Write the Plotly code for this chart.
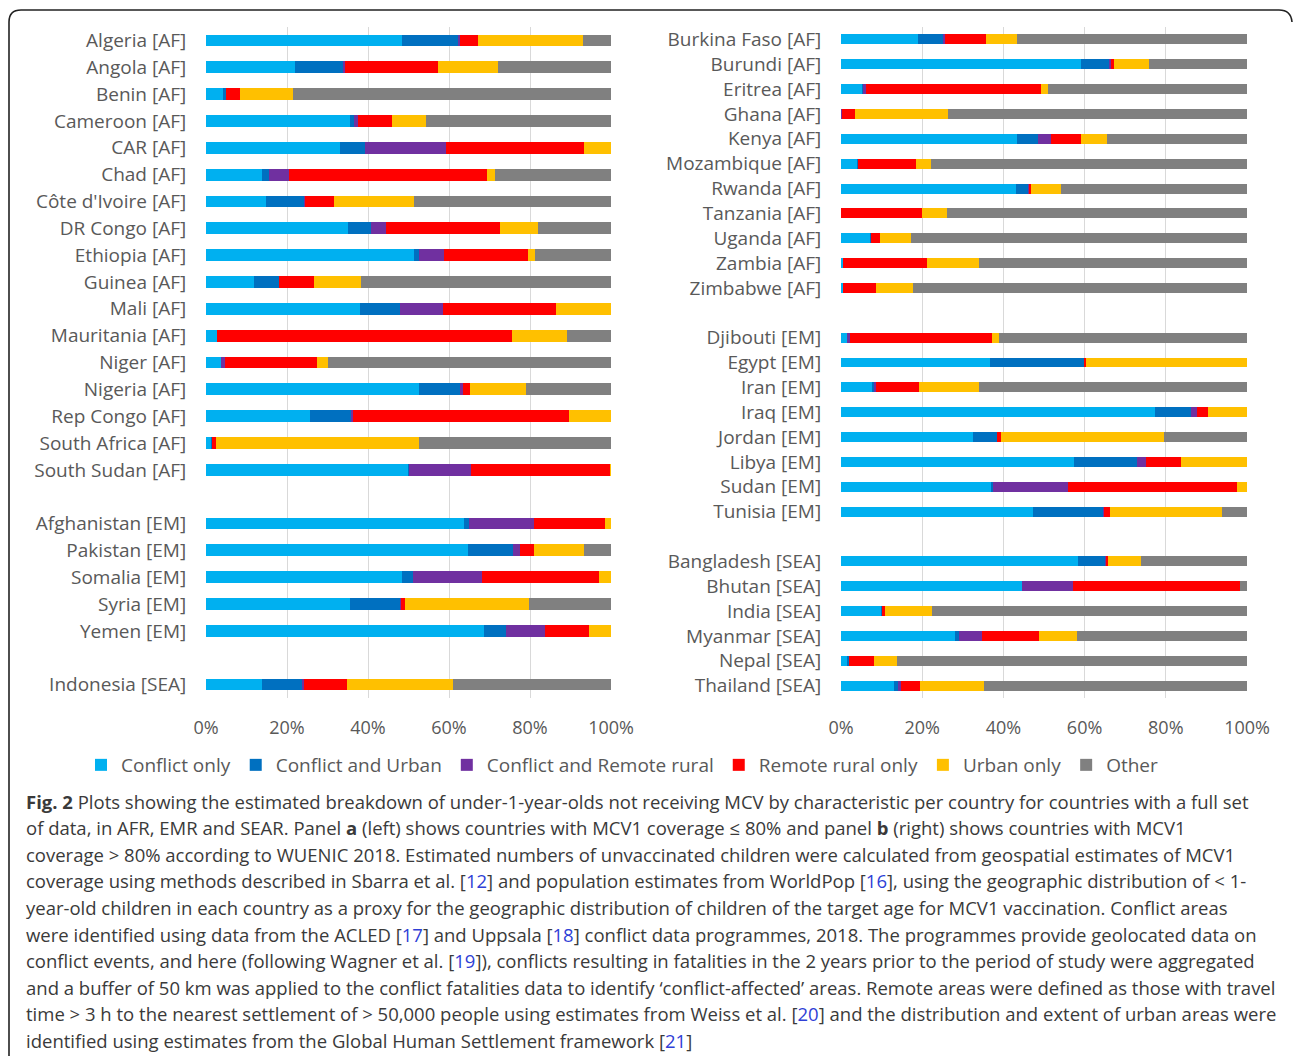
import plotly.graph_objects as go

W, H = 1293, 1056

SERIES = ["Conflict only", "Conflict and Urban", "Conflict and Remote rural",
          "Remote rural only", "Urban only", "Other"]
COLORS = ["#00B0F0", "#0070C0", "#7030A0", "#FF0000", "#FFC000", "#808080"]

# ---------------- Panel a (left) ----------------
left_countries = ["Algeria [AF]", "Angola [AF]", "Benin [AF]", "Cameroon [AF]", "CAR [AF]",
                  "Chad [AF]", "Côte d'Ivoire [AF]", "DR Congo [AF]", "Ethiopia [AF]",
                  "Guinea [AF]", "Mali [AF]", "Mauritania [AF]", "Niger [AF]", "Nigeria [AF]",
                  "Rep Congo [AF]", "South Africa [AF]", "South Sudan [AF]",
                  "Afghanistan [EM]", "Pakistan [EM]", "Somalia [EM]", "Syria [EM]", "Yemen [EM]",
                  "Indonesia [SEA]"]
left_order = left_countries[:17] + ["\u200b"] + left_countries[17:22] + ["\u200b\u200b"] + left_countries[22:]

left_conflict_only = [48.3, 21.9, 4.1, 35.6, 33.1, 13.9, 14.7, 35.1, 51.4, 11.9, 38.0, 2.7, 3.8, 52.6,
                      25.6, 1.4, 49.9, 63.6, 64.7, 48.4, 35.6, 68.7, 13.9]
left_conflict_urban = [14.0, 12.0, 0.8, 0.9, 6.2, 1.7, 9.6, 5.7, 1.3, 6.2, 10.0, 0.0, 0.0, 10.0,
                       10.4, 0.2, 0.1, 1.4, 11.2, 2.8, 12.4, 5.4, 10.0]
left_conflict_remote = [0.3, 0.3, 0.0, 1.1, 19.9, 4.9, 0.2, 3.6, 6.1, 0.0, 10.6, 0.0, 0.9, 0.9,
                        0.4, 0.0, 15.5, 16.1, 1.6, 16.9, 0.2, 9.7, 0.2]
left_remote_only = [4.6, 23.2, 3.5, 8.3, 34.2, 49.0, 7.1, 28.3, 20.7, 8.6, 27.8, 72.9, 22.6, 1.7,
                    53.2, 0.8, 34.3, 17.4, 3.5, 28.9, 0.9, 10.7, 10.7]
left_urban_only = [25.9, 14.6, 13.2, 8.4, 6.6, 1.9, 19.8, 9.2, 1.8, 11.6, 13.6, 13.5, 2.7, 13.7,
                   10.4, 50.2, 0.2, 1.5, 12.3, 3.0, 30.7, 5.5, 26.1]
left_other = [6.9, 28.0, 78.4, 45.7, 0.0, 28.6, 48.6, 18.1, 18.7, 61.7, 0.0, 10.9, 70.0, 21.1,
              0.0, 47.4, 0.0, 0.0, 6.7, 0.0, 20.2, 0.0, 39.1]

# ---------------- Panel b (right) ----------------
right_countries = ["Burkina Faso [AF]", "Burundi [AF]", "Eritrea [AF]", "Ghana [AF]", "Kenya [AF]",
                   "Mozambique [AF]", "Rwanda [AF]", "Tanzania [AF]", "Uganda [AF]", "Zambia [AF]",
                   "Zimbabwe [AF]",
                   "Djibouti [EM]", "Egypt [EM]", "Iran [EM]", "Iraq [EM]", "Jordan [EM]",
                   "Libya [EM]", "Sudan [EM]", "Tunisia [EM]",
                   "Bangladesh [SEA]", "Bhutan [SEA]", "India [SEA]", "Myanmar [SEA]",
                   "Nepal [SEA]", "Thailand [SEA]"]
right_order = right_countries[:11] + ["\u200b"] + right_countries[11:19] + ["\u200b\u200b"] + right_countries[19:]

right_conflict_only = [18.9, 59.2, 5.2, 0.0, 43.4, 4.0, 43.2, 0.0, 7.2, 0.5, 0.5,
                       1.5, 36.8, 7.6, 77.3, 32.5, 57.5, 37.1, 47.4,
                       58.3, 44.5, 9.9, 28.2, 1.7, 13.0]
right_conflict_urban = [6.4, 6.9, 0.3, 0.0, 5.0, 0.2, 3.1, 0.0, 0.2, 0.0, 0.0,
                        0.0, 23.2, 0.6, 9.0, 6.0, 15.5, 0.3, 17.2,
                        6.8, 0.0, 0.2, 0.8, 0.3, 1.0]
right_conflict_remote = [0.3, 0.5, 0.6, 0.2, 3.3, 0.0, 0.1, 0.1, 0.0, 0.0, 0.0,
                         0.8, 0.0, 0.3, 1.3, 0.0, 2.0, 18.5, 0.3,
                         0.3, 12.7, 0.0, 5.7, 0.0, 0.8]
right_remote_only = [10.2, 0.6, 43.2, 3.3, 7.4, 14.3, 0.3, 19.9, 2.2, 20.8, 8.1,
                     34.8, 0.3, 10.6, 2.8, 0.8, 8.8, 41.7, 1.3,
                     0.3, 41.0, 0.8, 14.0, 6.2, 4.7]
right_urban_only = [7.6, 8.7, 1.8, 22.9, 6.4, 3.7, 7.6, 6.2, 7.7, 12.6, 9.2,
                    1.7, 39.7, 14.8, 9.6, 40.3, 16.2, 2.4, 27.7,
                    8.1, 0.0, 11.5, 9.5, 5.6, 15.8]
right_other = [56.6, 24.1, 48.9, 73.6, 34.5, 77.8, 45.7, 73.8, 82.7, 66.1, 82.2,
               61.2, 0.0, 66.1, 0.0, 20.4, 0.0, 0.0, 6.1,
               26.2, 1.8, 77.6, 41.8, 86.2, 64.7]

x_ticks = [0, 20, 40, 60, 80, 100]
x_ticktext = ["0%", "20%", "40%", "60%", "80%", "100%"]

left_values = [left_conflict_only, left_conflict_urban, left_conflict_remote,
               left_remote_only, left_urban_only, left_other]
right_values = [right_conflict_only, right_conflict_urban, right_conflict_remote,
                right_remote_only, right_urban_only, right_other]

FONT = "Open Sans"
GREY_TXT = "#595959"


def px_x(x):
    return x / W


def px_y(y):
    return 1 - y / H


fig = go.Figure()
for i, name in enumerate(SERIES):
    fig.add_trace(go.Bar(
        y=left_countries, x=left_values[i], orientation="h", name=name,
        marker=dict(color=COLORS[i], line=dict(width=0)), width=0.44,
        xaxis="x", yaxis="y", legendgroup=name, showlegend=True))
for i, name in enumerate(SERIES):
    fig.add_trace(go.Bar(
        y=right_countries, x=right_values[i], orientation="h", name=name,
        marker=dict(color=COLORS[i], line=dict(width=0)), width=0.40,
        xaxis="x2", yaxis="y2", legendgroup=name, showlegend=False))

xcommon = dict(range=[0, 100], tickmode="array", tickvals=x_ticks, ticktext=x_ticktext,
               showgrid=True, automargin=False,
               gridcolor="#D9D9D9", gridwidth=1, zeroline=False, showline=False,
               ticks="outside", ticklen=13, tickcolor="rgba(0,0,0,0)",
               tickfont=dict(family=FONT, size=18, color=GREY_TXT), fixedrange=True)
ycommon = dict(type="category", categoryorder="array", autorange="reversed",
               showgrid=False, zeroline=False, showline=False, automargin=False,
               tickmode="array",
               ticks="outside", ticklen=15, tickcolor="rgba(0,0,0,0)",
               tickfont=dict(family=FONT, size=19, color=GREY_TXT), fixedrange=True)

ydom = [px_y(698), px_y(27)]
fig.update_layout(
    width=W, height=H, autosize=False,
    margin=dict(l=0, r=0, t=0, b=0, pad=0, autoexpand=False),
    paper_bgcolor="white", plot_bgcolor="white",
    barmode="stack", bargap=0.5,
    font=dict(family=FONT, color=GREY_TXT),
    xaxis=dict(domain=[px_x(206), px_x(611)], anchor="y", **xcommon),
    yaxis=dict(domain=ydom, anchor="x", categoryarray=left_order,
               tickvals=left_countries, ticktext=left_countries, **ycommon),
    xaxis2=dict(domain=[px_x(841), px_x(1247)], anchor="y2", **xcommon),
    yaxis2=dict(domain=ydom, anchor="x2", categoryarray=right_order,
                tickvals=right_countries, ticktext=right_countries, **ycommon),
    legend=dict(orientation="h", x=px_x(81), y=px_y(765), xanchor="left", yanchor="middle",
                font=dict(family=FONT, size=19, color=GREY_TXT), bgcolor="rgba(0,0,0,0)",
                traceorder="normal", itemclick=False, itemdoubleclick=False),
    showlegend=True,
)

# Figure frame (rounded top corners)
fx0, fy0, fx1, r = 9, 10, 1291, 12
path = (f"M {px_x(fx0)},{px_y(H + 5)} L {px_x(fx0)},{px_y(fy0 + r)} "
        f"Q {px_x(fx0)},{px_y(fy0)} {px_x(fx0 + r)},{px_y(fy0)} "
        f"L {px_x(fx1 - r)},{px_y(fy0)} "
        f"Q {px_x(fx1)},{px_y(fy0)} {px_x(fx1 + 1)},{px_y(fy0 + r)}")
fig.add_shape(type="path", path=path, xref="paper", yref="paper",
              line=dict(color="#222222", width=1.6))

# Caption
B = "<span style='color:#2f3fd6'>%s</span>"
caption_lines = [
    "<b>Fig. 2</b> Plots showing the estimated breakdown of under-1-year-olds not receiving MCV by characteristic per country for countries with a full set",
    "of data, in AFR, EMR and SEAR. Panel <b>a</b> (left) shows countries with MCV1 coverage ≤ 80% and panel <b>b</b> (right) shows countries with MCV1",
    "coverage > 80% according to WUENIC 2018. Estimated numbers of unvaccinated children were calculated from geospatial estimates of MCV1",
    "coverage using methods described in Sbarra et al. [" + B % "12" + "] and population estimates from WorldPop [" + B % "16" + "], using the geographic distribution of < 1-",
    "year-old children in each country as a proxy for the geographic distribution of children of the target age for MCV1 vaccination. Conflict areas",
    "were identified using data from the ACLED [" + B % "17" + "] and Uppsala [" + B % "18" + "] conflict data programmes, 2018. The programmes provide geolocated data on",
    "conflict events, and here (following Wagner et al. [" + B % "19" + "]), conflicts resulting in fatalities in the 2 years prior to the period of study were aggregated",
    "and a buffer of 50 km was applied to the conflict fatalities data to identify ‘conflict-affected’ areas. Remote areas were defined as those with travel",
    "time > 3 h to the nearest settlement of > 50,000 people using estimates from Weiss et al. [" + B % "20" + "] and the distribution and extent of urban areas were",
    "identified using estimates from the Global Human Settlement framework [" + B % "21" + "]",
]
line_y0, line_dy = 801, 26.6
for k, line in enumerate(caption_lines):
    fig.add_annotation(text=line, xref="paper", yref="paper", x=px_x(24),
                       y=px_y(line_y0 + k * line_dy), xanchor="left", yanchor="middle",
                       showarrow=False, align="left",
                       font=dict(family=FONT, size=18.5, color="#3a3a3a"))

fig.write_html("out.html", config={"displayModeBar": False},
               post_script="document.body.style.margin='0px';")
